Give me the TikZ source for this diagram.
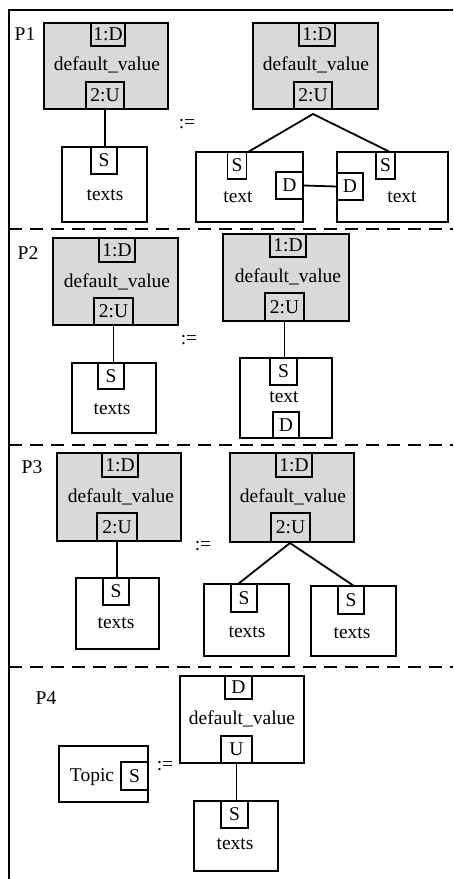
\documentclass[tikz,border=0pt]{standalone}
\usepackage{fontspec}
\setmainfont{Liberation Serif}
\tikzset{
  txt/.style={font=\fontsize{19.5}{22}\selectfont, inner sep=0pt},
  bx/.style={draw, line width=1.8pt, inner sep=0pt, txt},
  gbx/.style={bx, fill=gray!30},
  wire/.style={line width=1.8pt},
  sepline/.style={line width=1.8pt, dash pattern=on 13pt off 8pt},
  frame/.style={line width=2pt},
}
\begin{document}
\begin{tikzpicture}[x=1pt, y=-1pt]
\useasboundingbox (0,0) rectangle (453,879);

% outer frame and separators
\draw[frame] (453,10) -- (9,10) -- (9,879);
\draw[sepline] (9,229) -- (453,229);
\draw[sepline] (9,445) -- (453,445);
\draw[sepline] (9,667) -- (453,667);

% ---------------- P1 ----------------
\node[txt] (p1) at (25,34) {P1};
\node[gbx, minimum width=124pt, minimum height=86pt] (g1) at (106,66) {};
\node[txt] (g1t) at (107,65) {default\_value};
\node[bx, minimum width=34pt, minimum height=23pt] (g1d) at (108,34.5) {1:D};
\node[bx, minimum width=38pt, minimum height=27pt] (g1u) at (105,95.5) {2:U};
\node[bx, minimum width=85pt, minimum height=75pt] (t1) at (104.5,184.5) {};
\node[bx, minimum width=26pt, minimum height=27pt] (t1s) at (104,160.5) {S};
\node[txt] (t1t) at (105,195) {texts};
\draw[wire] (g1u.south) -- (g1u.south |- t1s.north);
\node[txt] (def1) at (187,124) {:=};

\node[gbx, minimum width=125pt, minimum height=86pt] (g2) at (315.5,66) {};
\node[txt] (g2t) at (316,65) {default\_value};
\node[bx, minimum width=36pt, minimum height=23pt] (g2d) at (317,34.5) {1:D};
\node[bx, minimum width=38pt, minimum height=27pt] (g2u) at (313,95.5) {2:U};
\coordinate (ap1) at (313,114);
\node[bx, minimum width=107pt, minimum height=70pt] (tL) at (249.5,187) {};
\node[bx, minimum width=19pt, minimum height=27pt] (tLs) at (237,165.5) {S};
\node[bx, minimum width=27pt, minimum height=27pt] (tLd) at (289.5,185.5) {D};
\node[txt] (tLt) at (238,197) {text};
\node[bx, minimum width=111pt, minimum height=70pt] (tR) at (392.5,187) {};
\node[bx, minimum width=19pt, minimum height=27pt] (tRs) at (385.5,165.5) {S};
\node[bx, minimum width=26pt, minimum height=27pt] (tRd) at (350,186.5) {D};
\node[txt] (tRt) at (402,197) {text};
\coordinate (tLin) at (248,152);
\coordinate (tRin) at (390,152);
\draw[wire] (tLin) -- (ap1) -- (tRin);
\draw[wire] (tLd.east) -- (tRd.west);

% ---------------- P2 ----------------
\node[txt] (p2) at (28,253) {P2};
\node[gbx, minimum width=125pt, minimum height=87pt] (g3) at (115.5,281.5) {};
\node[txt] (g3t) at (117,282) {default\_value};
\node[bx, minimum width=36pt, minimum height=24pt] (g3d) at (117,250) {1:D};
\node[bx, minimum width=39pt, minimum height=27pt] (g3u) at (113.5,311.5) {2:U};
\node[bx, minimum width=84pt, minimum height=70pt] (t3) at (114,398) {};
\node[bx, minimum width=26pt, minimum height=26pt] (t3s) at (111,376) {S};
\node[txt] (t3t) at (112,409) {texts};
\draw[wire] (g3u.south) -- (g3u.south |- t3.north);
\node[txt] (def2) at (189,340) {:=};

\node[gbx, minimum width=126pt, minimum height=87pt] (g4) at (286,277.5) {};
\node[txt] (g4t) at (288,277) {default\_value};
\node[bx, minimum width=36pt, minimum height=23pt] (g4d) at (288,245.5) {1:D};
\node[bx, minimum width=39pt, minimum height=28pt] (g4u) at (284.5,307) {2:U};
\node[bx, minimum width=92pt, minimum height=80pt] (t4) at (286,398) {};
\node[bx, minimum width=27pt, minimum height=27pt] (t4s) at (283.5,371.5) {S};
\node[txt] (t4t) at (284,397) {text};
\node[bx, minimum width=26pt, minimum height=26pt] (t4d) at (286,425) {D};
\draw[wire] (g4u.south) -- (g4u.south |- t4.north);

% ---------------- P3 ----------------
\node[txt] (p3) at (32,467) {P3};
\node[gbx, minimum width=124pt, minimum height=88pt] (g5) at (119,497) {};
\node[txt] (g5t) at (121,497) {default\_value};
\node[bx, minimum width=36pt, minimum height=24pt] (g5d) at (120,465) {1:D};
\node[bx, minimum width=40pt, minimum height=28pt] (g5u) at (117,527) {2:U};
\node[bx, minimum width=83pt, minimum height=71pt] (t5) at (117.5,613.5) {};
\node[bx, minimum width=26pt, minimum height=27pt] (t5s) at (116,591.5) {S};
\node[txt] (t5t) at (116,623) {texts};
\draw[wire] (g5u.south) -- (g5u.south |- t5.north);
\node[txt] (def3) at (203,546) {:=};

\node[gbx, minimum width=124pt, minimum height=89pt] (g6) at (292,497.5) {};
\node[txt] (g6t) at (293,497) {default\_value};
\node[bx, minimum width=36pt, minimum height=24pt] (g6d) at (294,465) {1:D};
\node[bx, minimum width=39pt, minimum height=29pt] (g6u) at (290.5,527.5) {2:U};
\node[bx, minimum width=85pt, minimum height=72pt] (t6) at (246.5,620) {};
\node[bx, minimum width=26pt, minimum height=28pt] (t6s) at (244,598) {S};
\node[txt] (t6t) at (247,632) {texts};
\node[bx, minimum width=85pt, minimum height=70pt] (t7) at (353.5,621) {};
\node[bx, minimum width=26pt, minimum height=28pt] (t7s) at (351,600) {S};
\node[txt] (t7t) at (352,633) {texts};
\coordinate (ap3) at (290,543);
\coordinate (t6in) at (238,584);
\coordinate (t7in) at (354,586);
\draw[wire] (t6in) -- (ap3) -- (t7in);

% ---------------- P4 ----------------
\node[txt] (p4) at (46,698) {P4};
\node[bx, minimum width=124pt, minimum height=87pt] (g7) at (242,719.5) {};
\node[txt] (g7t) at (242,719) {default\_value};
\node[bx, minimum width=27pt, minimum height=23pt] (g7d) at (238.5,687.5) {D};
\node[bx, minimum width=31pt, minimum height=27pt] (g7u) at (236.5,749.5) {U};
\node[bx, minimum width=84pt, minimum height=70pt] (t8) at (236,836) {};
\node[bx, minimum width=27pt, minimum height=27pt] (t8s) at (234.5,814.5) {S};
\node[txt] (t8t) at (235,844) {texts};
\draw[wire] (g7u.south) -- (g7u.south |- t8.north);

\node[bx, minimum width=89pt, minimum height=56pt] (tp) at (103.5,774) {};
\node[bx, minimum width=27pt, minimum height=28pt] (tps) at (134.5,776) {S};
\node[txt] (tpt) at (92,777) {Topic};
\node[txt] (def4) at (165,766) {:=};
\end{tikzpicture}
\end{document}
